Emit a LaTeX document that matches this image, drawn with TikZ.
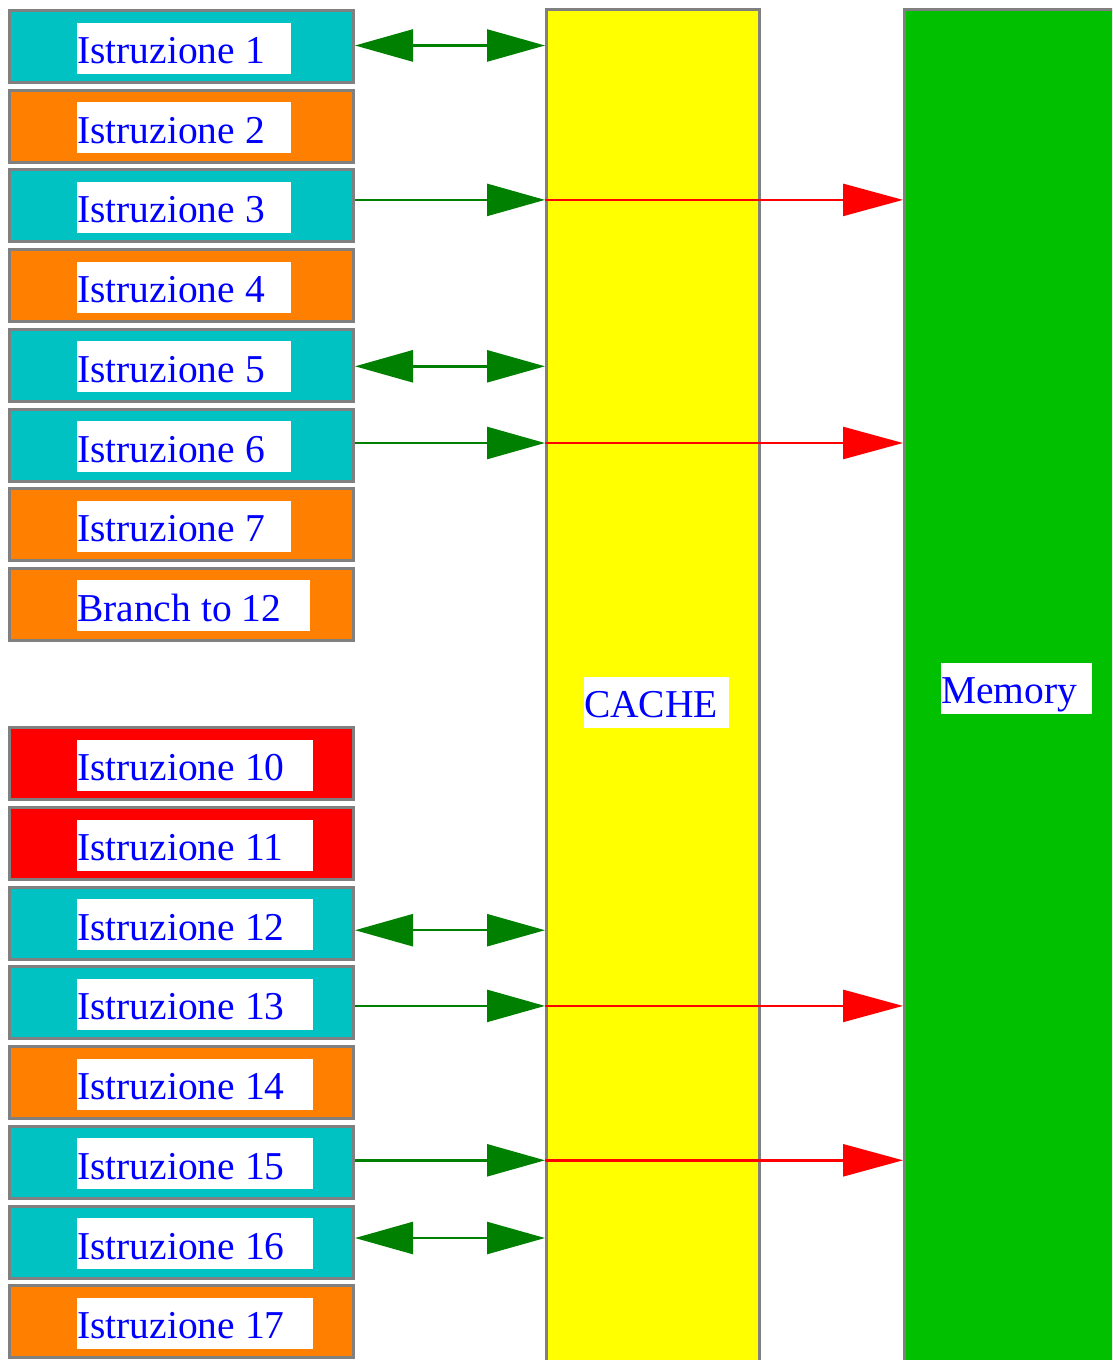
\documentclass[tikz,border=0pt]{standalone}
\usepackage{fontspec}
\setmainfont{Liberation Serif}
\usepackage{xcolor}
\usetikzlibrary{arrows.meta, positioning}

\definecolor{instrcyan}{RGB}{0,194,194}
\definecolor{instrorange}{RGB}{255,128,0}
\definecolor{cacheyellow}{RGB}{255,255,0}
\definecolor{memgreen}{RGB}{0,192,0}
\definecolor{linkgreen}{RGB}{0,128,0}

\tikzset{
	instr/.style={draw=gray, line width=3pt, minimum width=344pt, minimum height=72pt, inner sep=0pt},
	tag/.style={fill=white, text=blue, inner sep=0pt, text height=41pt, text depth=10pt, align=flush left, font=\fontsize{39.5}{47}\selectfont},
	bank/.style={draw=gray, line width=3pt, minimum height=1400pt, inner sep=0pt},
	hit/.style={linkgreen, line width=2.5pt, {Triangle[length=58pt,width=32pt]}-{Triangle[length=58pt,width=32pt]}},
	miss/.style={linkgreen, line width=2.5pt, -{Triangle[length=58pt,width=32pt]}},
	fetch/.style={red, line width=2.5pt, -{Triangle[length=60pt,width=32pt]}},
}

\begin{document}
\begin{tikzpicture}[x=1pt, y=-1pt]
	\useasboundingbox (0,0) rectangle (1112,1360);
	\clip (0,0) rectangle (1112,1360);

	\node[bank, fill=cacheyellow, minimum width=213pt] (cache) at (653,709.5) {};
	\node[bank, fill=memgreen, minimum width=300pt] (mem) at (1054.5,709.5) {};
	\node[tag, text width=145pt] (cachetag) at (656.5,702) {CACHE};
	\node[tag, text width=151pt] (memtag) at (1016.5,688) {Memory};

	% one slot per instruction, slot 9 is left empty
	\foreach \n/\col/\w/\txt in {
		1/instrcyan/214/Istruzione 1,
		2/instrorange/214/Istruzione 2,
		3/instrcyan/214/Istruzione 3,
		4/instrorange/214/Istruzione 4,
		5/instrcyan/214/Istruzione 5,
		6/instrcyan/214/Istruzione 6,
		7/instrorange/214/Istruzione 7,
		8/instrorange/233/Branch to 12,
		10/red/236/Istruzione 10,
		11/red/236/Istruzione 11,
		12/instrcyan/236/Istruzione 12,
		13/instrcyan/236/Istruzione 13,
		14/instrorange/236/Istruzione 14,
		15/instrcyan/236/Istruzione 15,
		16/instrcyan/236/Istruzione 16,
		17/instrorange/236/Istruzione 17}{
		\node[instr, fill=\col] (i\n) at (181.5,46.5+79.7*\n-79.7) {};
		\node[tag, text width=\w pt, anchor=west] (t\n) at ([xshift=69pt,yshift=-1.5pt]i\n.west) {\txt};
	}

	% cache hits
	\foreach \n/\dy in {1/1,5/-1,12/-7,16/4}
		\draw[hit] ([yshift=\dy pt]i\n.east) -- ([yshift=\dy pt]i\n -| cache.west);
	% misses go on to memory
	\foreach \n/\dy in {3/6,6/2,13/-3,15/2}{
		\draw[miss] ([yshift=\dy pt]i\n.east) -- ([yshift=\dy pt]i\n -| cache.west);
		\draw[fetch] ([yshift=\dy pt]i\n -| cache.west) -- ([yshift=\dy pt]i\n -| mem.west);
	}
\end{tikzpicture}
\end{document}
